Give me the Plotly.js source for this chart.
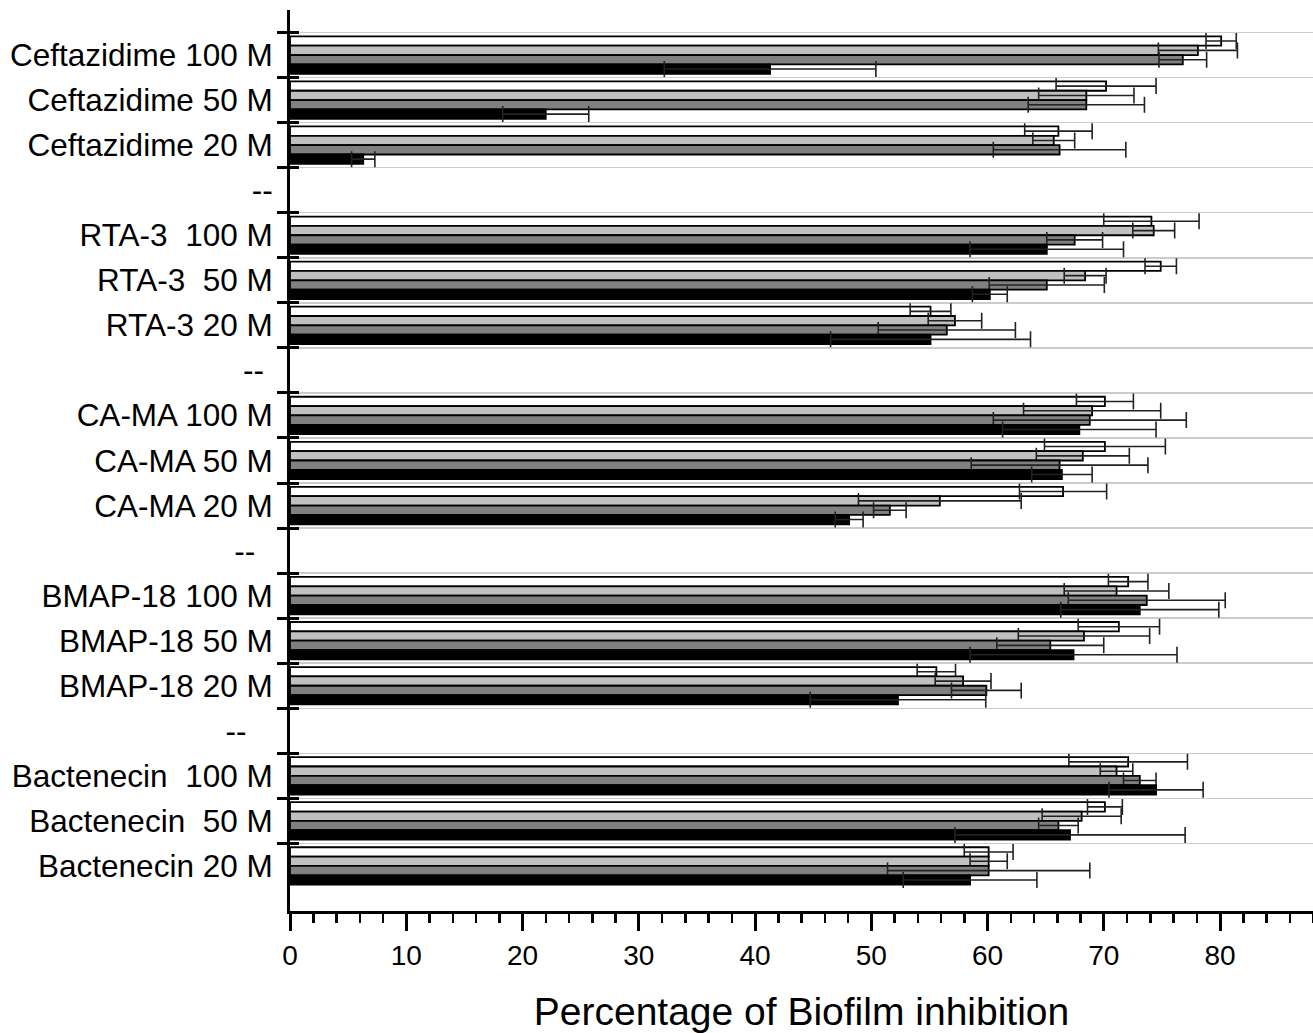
<!DOCTYPE html>
<html>
<head>
<meta charset="utf-8">
<script src="https://cdn.plot.ly/plotly-3.0.1.min.js"></script>
<style>html,body{margin:0;padding:0;background:#fff;}</style>
</head>
<body>
<div id="chart" style="width:1313px;height:1033px;"></div>
<script>
// Category labels, top to bottom ("--" rows are empty separators)
const categories = [
  "Ceftazidime 100 M", "Ceftazidime 50 M", "Ceftazidime 20 M", "--",
  "RTA-3\u00a0 100 M", "RTA-3\u00a0 50 M", "RTA-3 20 M", "-- ",
  "CA-MA 100 M", "CA-MA 50 M", "CA-MA 20 M", "--  ",
  "BMAP-18 100 M", "BMAP-18 50 M", "BMAP-18 20 M", "--   ",
  "Bactenecin\u00a0 100 M", "Bactenecin\u00a0 50 M", "Bactenecin 20 M"
];
// Categories that carry bars (same order as values below)
const barCategories = categories.filter(c => c.trim() !== "--");

// Series values (percentage of biofilm inhibition) and error (±)
const s1Values = [80.1, 70.2, 66.1, 74.1, 74.9, 55.1, 70.1, 70.1, 66.5, 72.1, 71.3, 55.6, 72.1, 70.1, 60.1];
const s1Errors = [1.3, 4.3, 2.9, 4.1, 1.35, 1.75, 2.45, 5.2, 3.75, 1.7, 3.5, 1.65, 5.1, 1.5, 2.1];
const s2Values = [78.1, 68.5, 65.7, 74.3, 68.4, 57.2, 69.0, 68.2, 55.9, 71.1, 68.3, 57.9, 71.1, 68.1, 60.1];
const s2Errors = [3.4, 4.1, 1.8, 1.8, 1.8, 2.3, 5.9, 4.0, 7.0, 4.5, 5.65, 2.4, 1.4, 3.4, 1.6];
const s3Values = [76.8, 68.5, 66.2, 67.5, 65.1, 56.5, 68.8, 66.2, 51.6, 73.7, 65.4, 59.9, 73.1, 66.1, 60.1];
const s3Errors = [2.05, 5.0, 5.7, 2.4, 4.95, 5.9, 8.3, 7.6, 1.4, 6.75, 4.6, 3.0, 1.4, 1.7, 8.7];
const s4Values = [41.3, 22.0, 6.3, 65.1, 60.2, 55.1, 67.9, 66.4, 48.1, 73.1, 67.4, 52.3, 74.5, 67.1, 58.5];
const s4Errors = [9.1, 3.7, 1.0, 6.6, 1.5, 8.6, 6.6, 2.6, 1.2, 6.8, 8.9, 7.55, 4.05, 9.9, 5.75];

const seriesValues = [s1Values, s2Values, s3Values, s4Values];
const seriesErrors = [s1Errors, s2Errors, s3Errors, s4Errors];
const seriesColors = ["#ffffff", "#c0c0c0", "#808080", "#000000"];

const FONT = "Liberation Sans, Arial, Helvetica, sans-serif";

const traces = seriesValues.map((vals, i) => ({
  type: "bar",
  orientation: "h",
  y: barCategories,
  x: vals,
  marker: {color: seriesColors[i], line: {color: "#000000", width: 1.8}},
  error_x: {type: "data", array: seriesErrors[i], visible: true, color: "#222222", thickness: 1.6, width: 8},
  hoverinfo: "x+y",
  showlegend: false
}));

// invisible helpers so both y axes know every category
traces.push({type: "scatter", mode: "markers", y: categories, x: categories.map(() => 0),
  marker: {opacity: 0}, hoverinfo: "skip", showlegend: false, yaxis: "y"});
traces.push({type: "scatter", mode: "markers", y: categories, x: categories.map(() => 0),
  marker: {opacity: 0}, hoverinfo: "skip", showlegend: false, yaxis: "y2"});

const yCommon = {
  type: "category",
  categoryorder: "array",
  categoryarray: categories,
  range: [categories.length, -1],
  autorange: false,
  tickson: "boundaries",
  fixedrange: true
};

const layout = {
  width: 1313,
  height: 1033,
  margin: {l: 290, r: 0, t: 10, b: 122},
  paper_bgcolor: "#ffffff",
  plot_bgcolor: "#ffffff",
  font: {family: FONT, color: "#000000"},
  barmode: "group",
  bargap: 0.17,
  bargroupgap: 0,
  xaxis: {
    range: [0, 88],
    dtick: 10,
    tick0: 0,
    ticks: "outside",
    ticklen: 17,
    tickwidth: 3,
    tickcolor: "#000000",
    minor: {dtick: 2, ticks: "outside", ticklen: 9, tickwidth: 2.5, tickcolor: "#000000", showgrid: false},
    showline: true,
    linewidth: 3,
    linecolor: "#000000",
    showgrid: false,
    zeroline: false,
    tickfont: {size: 28, family: FONT, color: "#000000"},
    title: {text: "Percentage of Biofilm inhibition", font: {size: 39, family: FONT, color: "#000000"}, standoff: 29}
  },
  yaxis: Object.assign({}, yCommon, {
    ticks: "outside",
    ticklen: 10,
    tickwidth: 3,
    tickcolor: "#000000",
    ticklabelstandoff: 8,
    showline: true,
    linewidth: 3,
    linecolor: "#000000",
    showgrid: true,
    gridcolor: "#cccccc",
    gridwidth: 1.5,
    zeroline: false,
    tickfont: {size: 31.5, family: FONT, color: "#000000"}
  }),
  yaxis2: Object.assign({}, yCommon, {
    overlaying: "y",
    side: "left",
    ticks: "inside",
    ticklen: 9,
    tickwidth: 3,
    tickcolor: "#000000",
    showticklabels: false,
    showline: false,
    showgrid: false,
    zeroline: false
  })
};

Plotly.newPlot("chart", traces, layout, {displayModeBar: false, staticPlot: true});
</script>
</body>
</html>
